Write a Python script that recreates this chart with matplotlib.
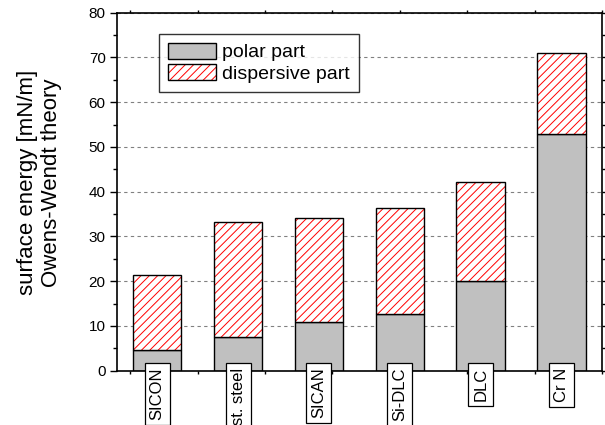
import numpy as np
import matplotlib
matplotlib.use('Agg')
import matplotlib.pyplot as plt
from matplotlib.ticker import MultipleLocator, FixedLocator
from matplotlib.patches import Patch
from matplotlib.legend_handler import HandlerTuple

plt.rcParams['font.family'] = ['Liberation Sans', 'DejaVu Sans']
plt.rcParams['hatch.linewidth'] = 0.7

# data
materials = ['SICON', 'st. steel', 'SICAN', 'Si-DLC', 'DLC', 'Cr N']
polar = [4.6, 7.5, 10.8, 12.6, 20.1, 52.9]
total = [21.4, 33.2, 34.2, 36.3, 42.2, 71.1]
dispersive = [t - p for t, p in zip(total, polar)]

fig = plt.figure(figsize=(6.05, 4.25), dpi=100)
ax = fig.add_axes([0.193, 0.128, 0.802, 0.842])

x = np.arange(len(materials)) + 0.5
w = 0.6

# grid behind the bars
ax.set_axisbelow(True)
ax.yaxis.grid(True, color='#808080', linestyle=(0, (3, 3)), linewidth=0.8)

ax.bar(x, polar, width=w, color='#c0c0c0', edgecolor='black', linewidth=1.0)
# red hatch first, black outline on top (edgecolor drives hatch colour)
ax.bar(x, dispersive, bottom=polar, width=w, color='white', edgecolor='red',
       linewidth=0, hatch='////')
ax.bar(x, dispersive, bottom=polar, width=w, fill=False, edgecolor='black',
       linewidth=1.0)

ax.set_xlim(0, 6)
ax.set_ylim(0, 80)
ax.yaxis.set_major_locator(MultipleLocator(10))
ax.yaxis.set_minor_locator(MultipleLocator(5))
ax.tick_params(axis='y', which='major', direction='out', length=5, width=1,
               labelsize=11, pad=3, right=True)
ax.tick_params(axis='y', which='minor', direction='out', length=3, width=1, right=True)

# Origin-style small ticks top/bottom, not tied to the bars
xt = [1/6 + k * 5/6 for k in range(8)]
ax.xaxis.set_major_locator(FixedLocator(xt))
ax.tick_params(axis='x', which='major', direction='out', length=2.5, width=1,
               labelbottom=False, top=True)

for s in ax.spines.values():
    s.set_linewidth(1.2)

ax.set_ylabel('surface energy [mN/m]\nOwens-Wendt theory', fontsize=16,
              linespacing=1.2)
ax.yaxis.set_label_coords(-0.112, 0.525)

# boxed, rotated category labels
trans = ax.get_xaxis_transform()
for xi, name in zip(x, materials):
    ax.text(xi, 0.008, name, rotation=90, ha='center', va='top', fontsize=12,
            transform=trans, clip_on=False,
            bbox=dict(boxstyle='square,pad=0.3', facecolor='white',
                      edgecolor='black', linewidth=0.9))

h_polar = Patch(facecolor='#c0c0c0', edgecolor='black', linewidth=1.0)
h_disp = (Patch(facecolor='white', edgecolor='red', linewidth=0, hatch='////'),
          Patch(fill=False, edgecolor='black', linewidth=1.0))
leg = ax.legend([h_polar, h_disp], ['polar part', 'dispersive part'],
                handler_map={tuple: HandlerTuple(ndivide=1, pad=0)},
                loc='upper left', bbox_to_anchor=(159 / 605, 1 - 34 / 425),
                bbox_transform=fig.transFigure, borderaxespad=0, fontsize=14,
                frameon=True, fancybox=False, edgecolor='black',
                handlelength=2.5, handleheight=0.87, handletextpad=0.3,
                labelspacing=0.15, borderpad=0.45)
leg.get_frame().set_linewidth(1.0)

fig.savefig('out.png', dpi=100)
